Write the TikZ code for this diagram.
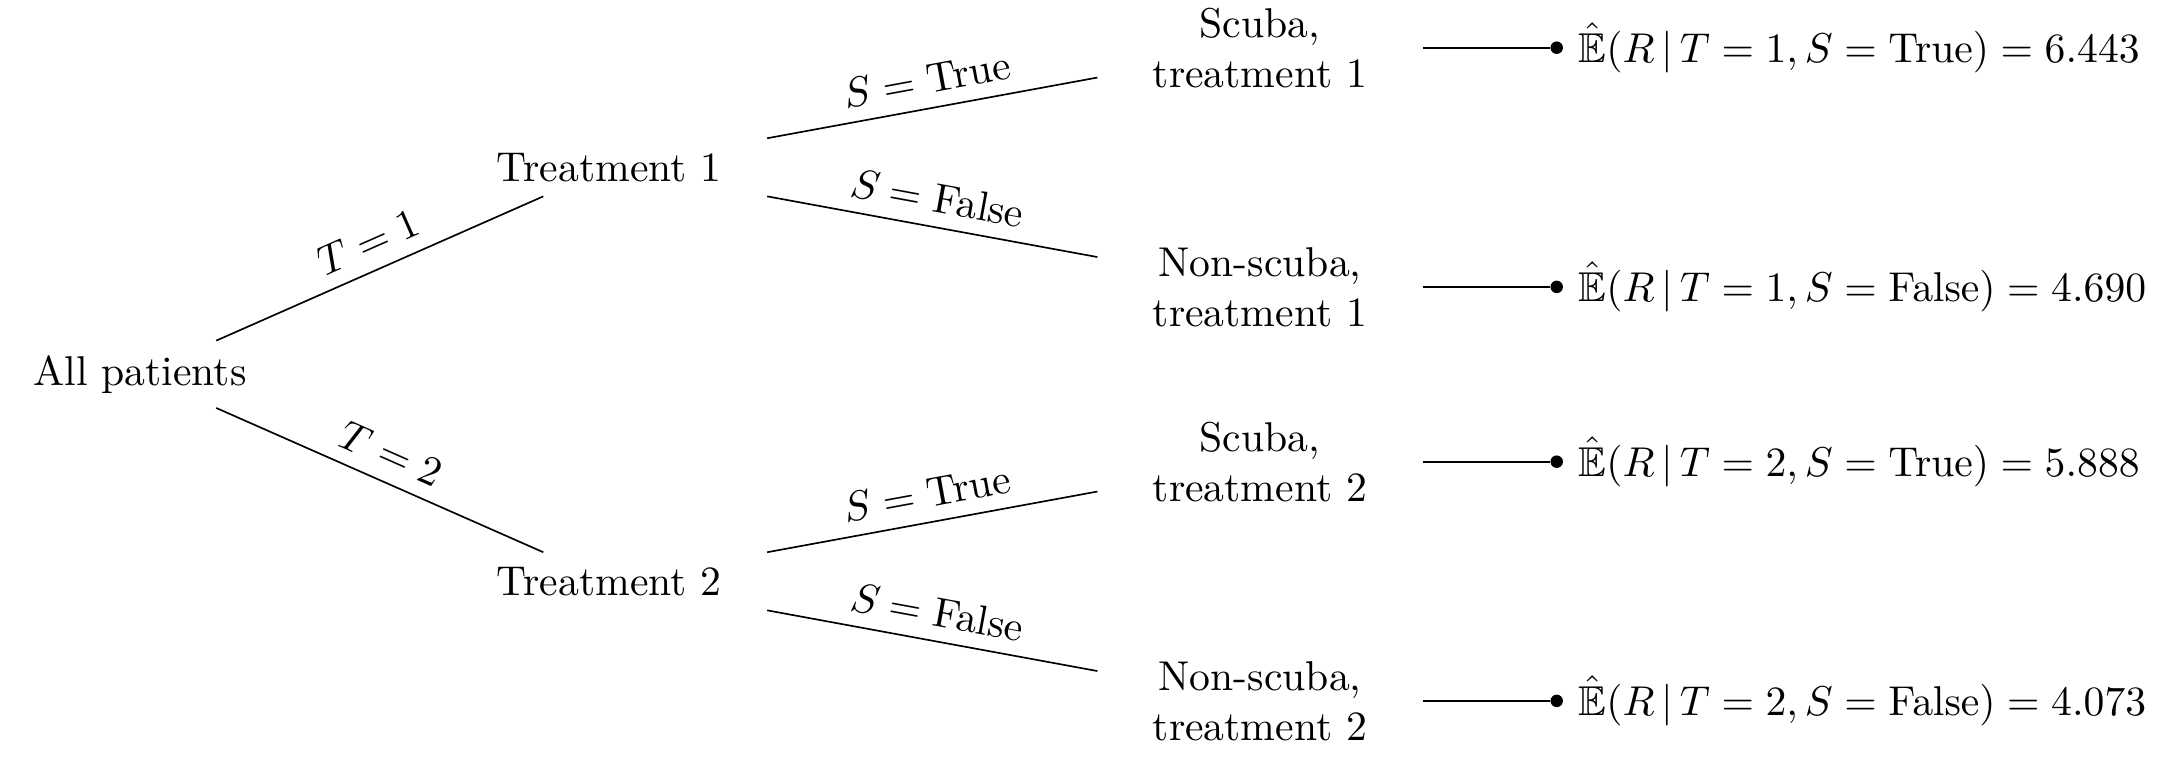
\documentclass[tikz,border=0pt]{standalone}
\usepackage{amssymb}
\usetikzlibrary{trees}

\begin{document}
\begin{tikzpicture}[grow=right, sloped, scale=0.97,
		level 1/.style={level distance=4.08cm, sibling distance=3.6cm},
		level 2/.style={level distance=5.66cm, sibling distance=2.08cm},
		level 3/.style={level distance=2.58cm},
		bag/.style={text width=7.1em, align=center},
		enddot/.style={circle, fill, minimum width=3pt, inner sep=0pt}]
		\useasboundingbox (-1.217,3.255) rectangle (17.627,-3.345);
		\node[bag] (all) {All patients}
		child {node[bag] (t2) {Treatment 2}
			child {node[bag] (t2f) {Non-scuba,\\treatment 2}
				child {node[enddot, label=right:{$\hat{\mathbb{E}}(R\,|\,T=2, S=\mathrm{False})=4.073$}] (e2f) {}}
				edge from parent node[above] {$S=\mathrm{False}$}}
			child {node[bag] (t2t) {Scuba,\\treatment 2}
				child {node[enddot, label=right:{$\hat{\mathbb{E}}(R\,|\,T=2, S=\mathrm{True})=5.888$}] (e2t) {}}
				edge from parent node[above] {$S=\mathrm{True}$}}
			edge from parent node[above] {$T=2$}}
		child {node[bag] (t1) {Treatment 1}
			child {node[bag] (t1f) {Non-scuba,\\treatment 1}
				child {node[enddot, label=right:{$\hat{\mathbb{E}}(R\,|\,T=1, S=\mathrm{False})=4.690$}] (e1f) {}}
				edge from parent node[above] {$S=\mathrm{False}$}}
			child {node[bag] (t1t) {Scuba,\\treatment 1}
				child {node[enddot, label=right:{$\hat{\mathbb{E}}(R\,|\,T=1, S=\mathrm{True})=6.443$}] (e1t) {}}
				edge from parent node[above] {$S=\mathrm{True}$}}
			edge from parent node[above] {$T=1$}};
	\end{tikzpicture}
\end{document}
